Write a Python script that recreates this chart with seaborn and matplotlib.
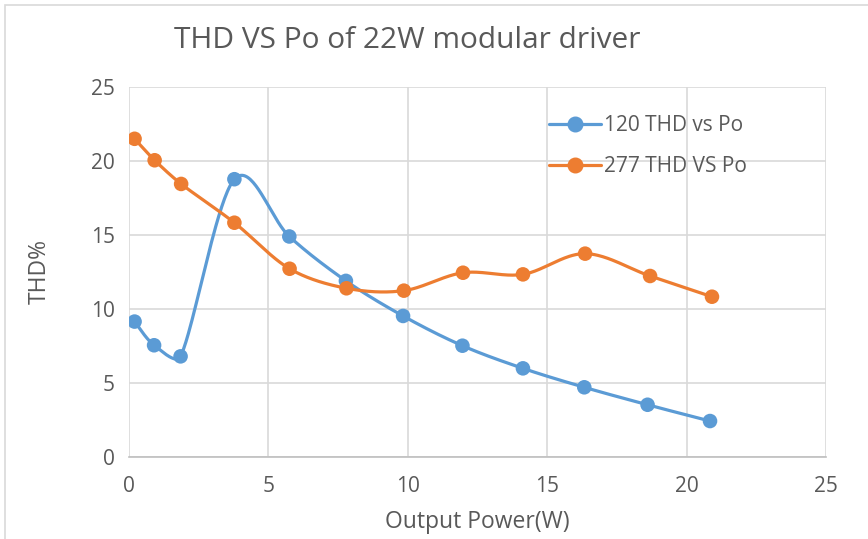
import matplotlib
matplotlib.use("Agg")
import matplotlib.pyplot as plt
import seaborn as sns
import numpy as np
import pandas as pd

# values
po_120 = [0.2, 0.9, 1.85, 3.78, 5.75, 7.78, 9.83, 11.96, 14.13, 16.33, 18.6, 20.84]
thd_120 = [9.15, 7.55, 6.8, 18.77, 14.9, 11.9, 9.53, 7.52, 5.99, 4.71, 3.53, 2.43]
po_277 = [0.2, 0.92, 1.87, 3.78, 5.76, 7.8, 9.86, 11.98, 14.13, 16.36, 18.69, 20.91]
thd_277 = [21.5, 20.05, 18.45, 15.83, 12.72, 11.4, 11.24, 12.45, 12.34, 13.74, 12.23, 10.83]

series_names = ["120 THD vs Po", "277 THD VS Po"]
colors = ["#5B9BD5", "#ED7D31"]
x_ticks = [0, 5, 10, 15, 20, 25]
y_ticks = [0, 5, 10, 15, 20, 25]

text_color = "#595959"
grid_color = "#D9D9D9"


def smooth(xs, ys, sx=27.9, sy=14.8, n=40):
    # smoothed line like Excel: catmull-rom bezier handles in screen space,
    # clipped to a third of the adjacent segment
    p = np.column_stack([np.asarray(xs) * sx, np.asarray(ys) * sy])
    m = len(p)
    tang = np.array([(p[min(i + 1, m - 1)] - p[max(i - 1, 0)]) / 6 for i in range(m)])

    def handle(i, seg_len):
        t = tang[i]
        ln = np.linalg.norm(t)
        lim = seg_len / 3
        return t * (lim / ln) if ln > lim else t

    out = []
    for i in range(m - 1):
        p1, p2 = p[i], p[i + 1]
        L = np.linalg.norm(p2 - p1)
        c1 = p1 + handle(i, L)
        c2 = p2 - handle(i + 1, L)
        t = np.linspace(0, 1, n, endpoint=(i == m - 2))[:, None]
        seg = ((1 - t) ** 3) * p1 + 3 * ((1 - t) ** 2) * t * c1 + 3 * (1 - t) * t ** 2 * c2 + t ** 3 * p2
        out.append(seg)
    out = np.vstack(out)
    return out[:, 0] / sx, out[:, 1] / sy


sns.set_style("white")
plt.rcParams["font.family"] = ["Open Sans", "DejaVu Sans"]

fig = plt.figure(figsize=(8.68, 5.39), dpi=100)
ax = fig.add_axes([129 / 868, 82 / 539, 697 / 868, 370 / 539])

pts = pd.DataFrame({
    "Po": po_120 + po_277,
    "THD": thd_120 + thd_277,
    "series": [series_names[0]] * len(po_120) + [series_names[1]] * len(po_277),
})

for name, xs, ys, c in zip(series_names, [po_120, po_277], [thd_120, thd_277], colors):
    sx, sy = smooth(xs, ys)
    curve = pd.DataFrame({"Po": sx, "THD": sy})
    sns.lineplot(data=curve, x="Po", y="THD", ax=ax, color=c, linewidth=2.3,
                 sort=False, estimator=None, zorder=3)

sns.scatterplot(data=pts, x="Po", y="THD", hue="series", palette=colors, ax=ax,
                s=110, edgecolor="none", zorder=4, legend=False)

ax.set_xlim(0, 25)
ax.set_ylim(0, 25)
ax.set_xticks(x_ticks)
ax.set_yticks(y_ticks)
ax.grid(True, color=grid_color, linewidth=1.2)
ax.set_axisbelow(True)
for s in ["top", "right", "left"]:
    ax.spines[s].set_visible(False)
ax.spines["bottom"].set_color("#BFBFBF")
ax.spines["bottom"].set_linewidth(1.2)
ax.tick_params(axis="both", length=0, labelsize=15, colors=text_color)
ax.tick_params(axis="x", pad=14)
ax.tick_params(axis="y", pad=10)
ax.set_xlabel("Output Power(W)", fontsize=16.5, color=text_color, labelpad=9)
ax.set_ylabel("THD%", fontsize=16.5, color=text_color, labelpad=28)

handles = [plt.Line2D([], [], color=c, linewidth=2.3, marker="o", markersize=10.5)
           for c in colors]
ax.legend(handles, series_names, loc="upper left", bbox_to_anchor=(0.575, 0.975),
          frameon=False, fontsize=15, labelcolor=text_color, handlelength=2.5,
          labelspacing=0.95, handletextpad=0.15)

fig.text(407 / 868, 1 - 41 / 539, "THD VS Po of 22W modular driver", ha="center",
         va="center", fontsize=21.5, color=text_color)

# chart border
fig.patches.append(plt.Rectangle((5 / 868, -0.1), 1.2, 1 - 5 / 539 + 0.1,
                                 transform=fig.transFigure, fill=False,
                                 edgecolor="#D9D9D9", linewidth=1.2))

fig.savefig("out.png", dpi=100)
